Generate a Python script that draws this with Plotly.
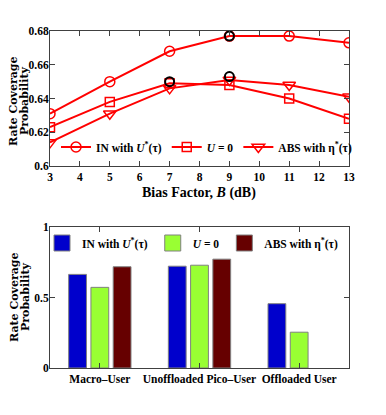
import plotly.graph_objects as go

# ---- data: top panel ----
bias_db = [3, 5, 7, 9, 11, 13]
in_with_u = [0.631, 0.650, 0.668, 0.677, 0.677, 0.673]
u_zero = [0.623, 0.638, 0.649, 0.648, 0.640, 0.628]
abs_with_eta = [0.614, 0.631, 0.646, 0.651, 0.648, 0.641]
opt_bias = [9, 7, 9]
opt_values = [0.677, 0.650, 0.653]

# ---- data: bottom panel ----
user_types = ["Macro\u2013User", "Unoffloaded Pico\u2013User", "Offloaded User"]
bar_in = [0.664, 0.722, 0.456]
bar_u0 = [0.572, 0.729, 0.254]
bar_abs = [0.718, 0.772, None]

series_names = ["IN with <i>U</i><sup>*</sup>(\u03c4)", "<i>U</i> = 0", "ABS with \u03b7<sup>*</sup>(\u03c4)"]

# page body has an 8px margin, so the figure is 16px smaller and coordinates shifted by 8px
OFF = 8
W, H = 386 - 2 * OFF, 415 - 2 * OFF
serif = "Liberation Serif"
axis_col = "#404040"

px = lambda v: (v - OFF) / W
py = lambda v: 1 - (v - OFF) / H

fig = go.Figure()

red = "#FF0000"
for yv, sym, sz, name in [(in_with_u, "circle-open", 10, series_names[0]),
                          (u_zero, "square-open", 9, series_names[1]),
                          (abs_with_eta, "triangle-down-open", 11, series_names[2])]:
    fig.add_trace(go.Scatter(x=bias_db, y=yv, mode="lines+markers", name=name,
                             line=dict(color=red, width=2),
                             marker=dict(symbol=sym, size=sz, color=red, line=dict(color=red, width=1.5)),
                             xaxis="x", yaxis="y", legend="legend"))

fig.add_trace(go.Scatter(x=opt_bias, y=opt_values, mode="markers", showlegend=False,
                         marker=dict(symbol="circle-open", size=9, color="black", line=dict(color="black", width=2)),
                         xaxis="x", yaxis="y"))

colors = ["#0000CC", "#99FF33", "#660000"]
for vals, col, name in [(bar_in, colors[0], series_names[0]),
                        (bar_u0, colors[1], series_names[1]),
                        (bar_abs, colors[2], series_names[2])]:
    fig.add_trace(go.Bar(x=user_types, y=vals, name=name, showlegend=False,
                         marker=dict(color=col, line=dict(color="#808080", width=1)),
                         xaxis="x2", yaxis="y2"))
    # legend entry with a larger colour box
    fig.add_trace(go.Scatter(x=[None], y=[None], mode="markers", name=name,
                             marker=dict(symbol="square", size=16, color=col, line=dict(color="#808080", width=1)),
                             xaxis="x2", yaxis="y2", legend="legend2"))

tickfont = dict(family=serif, size=11.5, color="black", weight="bold")
common = dict(showline=True, linecolor=axis_col, linewidth=1, mirror="ticks", ticks="inside",
              ticklen=5, tickcolor=axis_col, showgrid=False, zeroline=False, tickfont=tickfont,
              automargin=False)
ycommon = dict(common, ticklabelstandoff=-2)

fig.update_layout(
    width=W, height=H, autosize=False,
    margin=dict(l=0, r=0, t=0, b=0, autoexpand=False),
    paper_bgcolor="white", plot_bgcolor="white",
    barmode="group", bargap=0.33, bargroupgap=0.2,
    xaxis=dict(domain=[px(50), px(349)], range=[3, 13], tickvals=list(range(3, 14)),
               anchor="y", **common),
    yaxis=dict(domain=[py(166), py(31)], range=[0.6, 0.68], tickvals=[0.6, 0.62, 0.64, 0.66, 0.68],
               ticktext=["0.6", "0.62", "0.64", "0.66", "0.68"], anchor="x", **ycommon),
    xaxis2=dict(domain=[px(50), px(349)], range=[-0.5, 2.5], anchor="y2", tickangle=0, **common),
    yaxis2=dict(domain=[py(368), py(227)], range=[0, 1], tickvals=[0, 0.5, 1], ticktext=["0", "0.5", "1"],
                anchor="x2", **ycommon),
    legend=dict(orientation="h", x=px(56), y=py(147), xanchor="left", yanchor="middle",
                font=dict(family=serif, size=11.5, color="black", weight="bold"),
                bgcolor="rgba(0,0,0,0)", itemwidth=30, tracegroupgap=0),
    legend2=dict(orientation="h", x=px(42), y=py(243), xanchor="left", yanchor="middle",
                 font=dict(family=serif, size=11.5, color="black", weight="bold"),
                 bgcolor="rgba(0,0,0,0)", itemsizing="trace"),
)

ann = []
for yc in [101, 297]:
    for xc, txt in [(14, "Rate Coverage"), (25, "Probability")]:
        ann.append(dict(x=px(xc), y=py(yc), xref="paper", yref="paper", text=txt, textangle=-90,
                        showarrow=False, xanchor="center", yanchor="middle",
                        font=dict(family="DejaVu Serif", size=11, color="black", weight="bold")))
ann.append(dict(x=px(199), y=py(193), xref="paper", yref="paper", text="Bias Factor, <i>B</i> (dB)",
                showarrow=False, xanchor="center", yanchor="middle",
                font=dict(family=serif, size=14, color="black", weight="bold")))
fig.update_layout(annotations=ann)

fig.write_html("out.html")
